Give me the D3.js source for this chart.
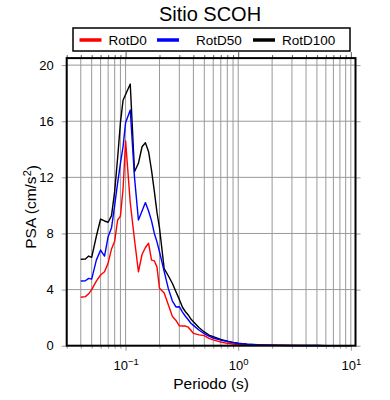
<!DOCTYPE html>
<html>
<head>
<meta charset="utf-8">
<script src="https://cdn.jsdelivr.net/npm/d3@7"></script>
<style>
  body { margin: 0; background: #fff; }
  svg { display: block; font-family: "Liberation Sans", Arial, sans-serif; }
</style>
</head>
<body>
<div id="chart"></div>
<script>
// periods (s) and PSA (cm/s^2)
const periods = [0.04, 0.044, 0.047, 0.05, 0.055, 0.06, 0.065, 0.07, 0.075, 0.08,
  0.085, 0.09, 0.095, 0.1, 0.11, 0.12, 0.13, 0.14, 0.15, 0.16,
  0.17, 0.18, 0.19, 0.2, 0.22, 0.24, 0.26, 0.28, 0.3, 0.32,
  0.34, 0.36, 0.38, 0.4, 0.45, 0.5, 0.55, 0.6, 0.7, 0.8,
  0.9, 1.0, 1.2, 1.5, 2, 2.5, 3, 4, 5, 6, 7, 8, 9, 10];

const rotD0 = [3.45, 3.5, 3.7, 4.0, 4.6, 5.04, 5.27, 5.9, 6.9, 7.45,
  8.96, 9.24, 11.2, 14.6, 10.2, 7.55, 5.27, 6.5, 7.0, 7.3,
  6.1, 6.05, 5.6, 4.09, 3.75, 2.9, 2.1, 1.8, 1.42, 1.4,
  1.4, 1.32, 1.1, 0.88, 0.77, 0.72, 0.52, 0.42, 0.26, 0.17,
  0.12, 0.09, 0.06, 0.04, 0.022, 0.015, 0.011, 0.008, 0.006, 0.004, 0.003, 0.003, 0.002, 0.002];

const rotD50 = [4.61, 4.63, 4.8, 4.75, 6.1, 6.82, 6.39, 7.77, 8.4, 10.0,
  11.6, 13.0, 14.2, 15.9, 16.8, 12.0, 8.96, 9.6, 10.2, 9.6,
  8.9, 8.0, 7.4, 6.7, 5.3, 4.05, 3.2, 2.76, 2.78, 2.4,
  2.1, 1.85, 1.6, 1.45, 1.1, 0.86, 0.68, 0.55, 0.4, 0.3,
  0.22, 0.16, 0.1, 0.06, 0.035, 0.025, 0.018, 0.012, 0.009, 0.007, 0.005, 0.004, 0.004, 0.003];

const rotD100 = [6.16, 6.18, 6.39, 6.3, 7.8, 9.03, 8.89, 8.8, 9.27, 11.0,
  13.4, 15.9, 17.5, 17.9, 18.65, 12.4, 13.0, 14.18, 14.47, 13.83,
  12.5, 11.0, 9.5, 8.4, 5.5, 4.97, 4.45, 3.85, 3.3, 2.74,
  2.42, 2.19, 1.9, 1.71, 1.28, 0.98, 0.76, 0.64, 0.44, 0.33,
  0.23, 0.17, 0.11, 0.07, 0.04, 0.03, 0.02, 0.015, 0.01, 0.008, 0.006, 0.005, 0.004, 0.004];

const yTicks = [0, 4, 8, 12, 16, 20];
const xMajor = [0.1, 1, 10];
const xExponents = ["\u22121", "0", "1"];

const seriesNames = ["RotD0", "RotD50", "RotD100"];
const seriesColors = ["#ff0000", "#0000ff", "#000000"];

const width = 390, height = 400;
const plotLeft = 66.7, plotRight = 355.5, plotTop = 58.1, plotBottom = 345.7;
const gridColor = "#999";

const svg = d3.select("#chart").append("svg")
  .attr("width", width)
  .attr("height", height);

const x = d3.scaleLog().domain([0.03, 11]).range([plotLeft, plotRight]);
const y = d3.scaleLinear().domain([0, 20.5]).range([plotBottom, plotTop]);

const xAll = x.ticks();
const xMinor = xAll.filter(v => !xMajor.some(m => Math.abs(m - v) < 1e-9));

// grid
const grid = svg.append("g");
grid.selectAll("line.v")
  .data(xAll)
  .join("line")
  .attr("class", "v")
  .attr("x1", d => x(d)).attr("x2", d => x(d))
  .attr("y1", plotTop).attr("y2", plotBottom)
  .attr("stroke", gridColor).attr("stroke-width", 1);
grid.selectAll("line.h")
  .data(yTicks.filter(d => d > 0))
  .join("line")
  .attr("class", "h")
  .attr("x1", plotLeft).attr("x2", plotRight)
  .attr("y1", d => y(d)).attr("y2", d => y(d))
  .attr("stroke", gridColor).attr("stroke-width", 1);

// curves
const line = d3.line()
  .x(d => x(d[0]))
  .y(d => y(d[1]));

const curves = [
  { values: rotD100, color: seriesColors[2] },
  { values: rotD0, color: seriesColors[0] },
  { values: rotD50, color: seriesColors[1] }
];
svg.append("g")
  .selectAll("path")
  .data(curves)
  .join("path")
  .attr("d", c => line(periods.map((p, i) => [p, c.values[i]])))
  .attr("fill", "none")
  .attr("stroke", c => c.color)
  .attr("stroke-width", 1.4)
  .attr("stroke-linejoin", "round");

// axes
const styleTicks = (g, col) => {
  g.select(".domain").remove();
  g.selectAll(".tick line").attr("stroke", col);
};

svg.append("g")
  .attr("transform", `translate(0,${plotBottom})`)
  .call(d3.axisBottom(x).tickValues(xMinor).tickSize(3).tickFormat(""))
  .call(g => styleTicks(g, gridColor));

const xAxis = svg.append("g")
  .attr("transform", `translate(0,${plotBottom})`)
  .call(d3.axisBottom(x).tickValues(xMajor).tickSize(5).tickPadding(6).tickFormat(() => ""))
  .call(g => styleTicks(g, gridColor));

xAxis.selectAll(".tick text")
  .attr("font-size", 13)
  .attr("fill", "#000")
  .attr("font-family", "Liberation Sans, Arial, sans-serif")
  .attr("dy", "1.0em")
  .each(function (d, i) {
    const t = d3.select(this);
    t.append("tspan").text("10");
    t.append("tspan")
      .attr("dy", "-0.45em")
      .attr("font-size", 9.5)
      .text(xExponents[i]);
  });

svg.append("g")
  .attr("transform", `translate(0,${plotTop})`)
  .call(d3.axisTop(x).tickValues(xMinor).tickSize(3).tickFormat(""))
  .call(g => styleTicks(g, "#555"));
svg.append("g")
  .attr("transform", `translate(0,${plotTop})`)
  .call(d3.axisTop(x).tickValues(xMajor).tickSize(6).tickFormat(""))
  .call(g => styleTicks(g, "#555"));

svg.append("g")
  .attr("transform", `translate(${plotLeft},0)`)
  .call(d3.axisLeft(y).tickValues(yTicks).tickSize(5).tickPadding(8))
  .call(g => styleTicks(g, gridColor))
  .call(g => g.selectAll(".tick text")
    .attr("font-size", 13)
    .attr("fill", "#000")
    .attr("font-family", "Liberation Sans, Arial, sans-serif"));

svg.append("g")
  .attr("transform", `translate(${plotRight},0)`)
  .call(d3.axisRight(y).tickValues(yTicks).tickSize(5).tickFormat(""))
  .call(g => styleTicks(g, gridColor));

// frame
svg.append("rect")
  .attr("x", plotLeft).attr("y", plotTop)
  .attr("width", plotRight - plotLeft).attr("height", plotBottom - plotTop)
  .attr("fill", "none")
  .attr("stroke", "#000")
  .attr("stroke-width", 2);

// title and labels
svg.append("text")
  .attr("x", 210).attr("y", 21)
  .attr("text-anchor", "middle")
  .attr("font-size", 20)
  .text("Sitio SCOH");

svg.append("text")
  .attr("x", (plotLeft + plotRight) / 2).attr("y", 389)
  .attr("text-anchor", "middle")
  .attr("font-size", 15.5)
  .text("Periodo (s)");

const yLab = svg.append("text")
  .attr("transform", `translate(36,${(plotTop + plotBottom) / 2 + 5}) rotate(-90)`)
  .attr("text-anchor", "middle")
  .attr("font-size", 15.5);
yLab.append("tspan").text("PSA (cm/s");
yLab.append("tspan").attr("dy", "-0.45em").attr("font-size", 11).text("2");
yLab.append("tspan").attr("dy", "0.45em").text(")");

// legend
const legend = svg.append("g");
legend.append("rect")
  .attr("x", 73).attr("y", 28)
  .attr("width", 277).attr("height", 23)
  .attr("fill", "#fff")
  .attr("stroke", "#000")
  .attr("stroke-width", 1.5);

const legendX = [79.5, 157, 253];
const item = legend.selectAll("g.item")
  .data(seriesNames)
  .join("g")
  .attr("class", "item")
  .attr("transform", (d, i) => `translate(${legendX[i]},40)`);
item.append("line")
  .attr("x1", 0).attr("x2", 22)
  .attr("stroke", (d, i) => seriesColors[i])
  .attr("stroke-width", 3.5);
item.append("text")
  .attr("x", (d, i) => i === 1 ? 39 : 29)
  .attr("y", 4.8)
  .attr("font-size", 13.5)
  .text(d => d);
</script>
</body>
</html>
